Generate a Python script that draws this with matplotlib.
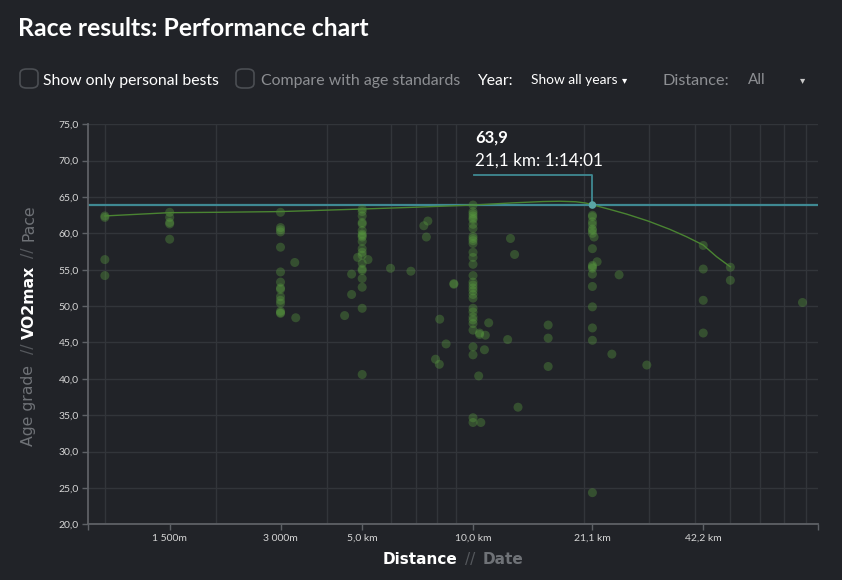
import matplotlib
matplotlib.use("Agg")
import matplotlib.pyplot as plt
from matplotlib.patches import FancyBboxPatch
from matplotlib.ticker import FixedLocator, NullFormatter

# ---- data ----
dist_m = (
    [1000] * 4
    + [1500] * 5
    + [3000] * 15 + [3280, 3300]
    + [5000] * 20 + [4860, 5185, 4680, 4680, 4480, 5970, 6780, 7350, 7540, 7470]
    + [8870, 8870, 8120, 8450, 7910, 8100]
    + [10000] * 32
    + [10420, 10420, 10800, 11030, 10740, 10360, 10500, 12420, 12640, 12970, 13250]
    + [16000] * 3
    + [21100] * 17 + [21320, 21730, 24930, 23830, 29650]
    + [42200] * 4
    + [50000] * 2
    + [78500]
)
score = (
    [62.4, 62.2, 56.4, 54.2]
    + [62.9, 62.2, 61.5, 61.3, 59.2]
    + [62.9, 60.8, 60.5, 60.2, 58.1, 54.7, 53.3, 52.5, 52.3, 51.3, 50.8, 50.4, 49.3, 49.1, 49.0]
    + [56.0, 48.4]
    + [63.35, 63.0, 62.4, 61.5, 61.3, 60.4, 59.9, 59.7, 59.5, 58.9, 57.9, 57.4, 57.0, 55.9,
       55.1, 54.9, 53.8, 52.6, 49.7, 40.6]
    + [56.7, 56.4, 54.4, 51.6, 48.7, 55.2, 54.8, 61.05, 61.7, 59.5]
    + [53.1, 53.0, 48.2, 44.8, 42.7, 42.0]
    + [63.9, 63.0, 62.7, 62.4, 62.1, 61.9, 61.25, 60.7, 59.6, 59.3, 59.0, 58.6, 57.4, 56.7,
       55.75, 54.2, 53.3, 52.9, 52.5, 52.1, 51.6, 51.1, 49.7, 49.2, 48.5, 48.1, 47.6, 46.7,
       44.4, 43.3, 34.65, 34.0]
    + [46.3, 46.1, 46.0, 47.7, 44.0, 40.4, 34.0, 45.4, 59.3, 57.1, 36.1]
    + [47.4, 45.6, 41.7]
    + [62.5, 62.3, 61.6, 61.2, 60.6, 60.4, 60.0, 57.9, 55.6, 55.4, 55.2, 54.4, 52.7, 49.9,
       47.0, 45.3, 24.35]
    + [59.5, 56.1, 54.3, 43.4, 41.9]
    + [58.35, 55.1, 50.8, 46.3]
    + [55.35, 53.55]
    + [50.5]
)

# personal-best trend curve
trend_dist = [1000, 1500, 2000, 3000, 5000, 7000, 10000, 12850, 15500, 17200, 19000,
              20200, 21100, 22080, 23520, 26110, 29890, 34230, 38010, 42200, 45860, 50000]
trend_val = [62.4, 62.85, 62.9, 63.0, 63.35, 63.6, 63.9, 64.2, 64.38, 64.42, 64.35,
             64.18, 63.95, 63.67, 63.3, 62.66, 61.7, 60.56, 59.54, 58.4, 56.8, 55.4]

best_dist = 21100
best_val = 63.9

xtick_vals = [1500, 3000, 5000, 10000, 21100, 42200]
xtick_labels = ["1 500m", "3 000m", "5,0 km", "10,0 km", "21,1 km", "42,2 km"]
ytick_vals = [20, 25, 30, 35, 40, 45, 50, 55, 60, 65, 70, 75]

# ---- style ----
BG = "#212328"
GRID = "#32353a"
SPINE = "#5e6166"
TICKTXT = "#d6d6d6"
GREEN = "#5a9e40"
TEAL = "#3f8993"
GRAY = "#8d8f93"
DIM = "#6f7277"
SLASH = "#55585d"

plt.rcParams["font.family"] = ["Lato", "DejaVu Sans"]

W, H = 842, 580
fig = plt.figure(figsize=(W / 100, H / 100), dpi=100, facecolor=BG)


def px(x, y):
    return x / W, 1 - y / H


ax = fig.add_axes([88 / W, 55.7 / H, 730 / W, 400 / H])
ax.set_facecolor(BG)
ax.set_xscale("log")
ax.set_xlim(900, 86500)
ax.set_ylim(20, 75)

# grid
ax.xaxis.set_minor_locator(FixedLocator([1000 * k for k in range(1, 10)] + [10000 * k for k in range(1, 9)]))
ax.xaxis.set_minor_formatter(NullFormatter())
ax.grid(True, which="minor", axis="x", color=GRID, lw=1)
ax.grid(True, which="major", axis="y", color=GRID, lw=1)
ax.set_axisbelow(True)
ax.tick_params(axis="x", which="minor", length=0)

ax.set_xticks(xtick_vals + [900, 86500])
ax.set_xticklabels(xtick_labels + ["", ""])
ax.set_yticks(ytick_vals)
ax.set_yticklabels([f"{v:.1f}".replace(".", ",") for v in ytick_vals])
ax.tick_params(axis="x", which="major", length=4, width=1, color=SPINE, pad=3,
               labelsize=7.5, labelcolor=TICKTXT)
ax.tick_params(axis="y", length=4.5, width=1, color=SPINE, pad=2,
               labelsize=7.5, labelcolor=TICKTXT)

for s in ["top", "right"]:
    ax.spines[s].set_visible(False)
for s in ["left", "bottom"]:
    ax.spines[s].set_color(SPINE)
    ax.spines[s].set_linewidth(1.3)

# reference line for the highlighted result
ax.axhline(best_val, color=TEAL, lw=1.6, zorder=2)

# race results
ax.scatter(dist_m, score, s=42, color=GREEN, alpha=0.36, edgecolors="none", zorder=3)

# trend curve
ax.plot(trend_dist, trend_val, color="#4a8432", lw=1.0, zorder=4)

# highlighted point + connector to the label
ax.scatter([best_dist], [best_val], s=30, color="#5aa5a5", zorder=5, edgecolors="none")
ax.plot([best_dist, best_dist, 10040], [best_val, 68.0, 68.0], color=TEAL, lw=1.3, zorder=4)

fig.text(*px(475, 143), "63,9", color="white", fontsize=12, fontweight="bold", va="baseline")
fig.text(*px(475, 166), "21,1 km: 1:14:01", color="white", fontsize=12.3, va="baseline")

# ---- header ----
fig.text(*px(18, 36), "Race results: Performance chart", color="white", fontsize=17.8,
         fontweight="bold", va="baseline")

for bx in [20, 236]:
    x0, y0 = px(bx, 88)
    box = FancyBboxPatch((x0, y0), 18 / W, 19 / H, boxstyle="round,pad=0,rounding_size=0.008",
                         transform=fig.transFigure, facecolor=BG, edgecolor="#4b4e53", lw=1.2)
    fig.patches.append(box)

fig.text(*px(43, 85), "Show only personal bests", color="white", fontsize=11.3, va="baseline")
fig.text(*px(261, 85), "Compare with age standards", color=GRAY, fontsize=11.4, va="baseline")
fig.text(*px(477, 85), "Year:", color="white", fontsize=11.3, va="baseline")
fig.text(*px(531, 84), "Show all years", color="white", fontsize=9.9, va="baseline")
fig.text(*px(622, 83), "▾", color="white", fontsize=7.5, va="baseline")
fig.text(*px(663, 85), "Distance:", color=GRAY, fontsize=11.7, va="baseline")
fig.text(*px(748, 84), "All", color=GRAY, fontsize=11, va="baseline")
fig.text(*px(800, 83), "▾", color="#c8c8c8", fontsize=7.5, va="baseline")

# ---- axis titles ----
fig.text(*px(383, 564), "Distance", color="white", fontsize=11, fontweight="bold",
         family="DejaVu Sans", va="baseline")
fig.text(*px(465, 564), "//", color=SLASH, fontsize=11, family="DejaVu Sans", va="baseline")
fig.text(*px(483, 564), "Date", color=DIM, fontsize=11, fontweight="bold",
         family="DejaVu Sans", va="baseline")

for label, ybot, col, wt in [("Age grade", 446, DIM, "normal"), ("//", 354, SLASH, "normal"),
                             ("VO2max", 339, "white", "bold"), ("//", 258, SLASH, "normal"),
                             ("Pace", 241, DIM, "normal")]:
    fig.text(*px(29, ybot), label, color=col, fontsize=11.3, fontweight=wt,
             family="DejaVu Sans", rotation=90, ha="center", va="bottom")

fig.savefig("out.png", dpi=100, facecolor=BG)
